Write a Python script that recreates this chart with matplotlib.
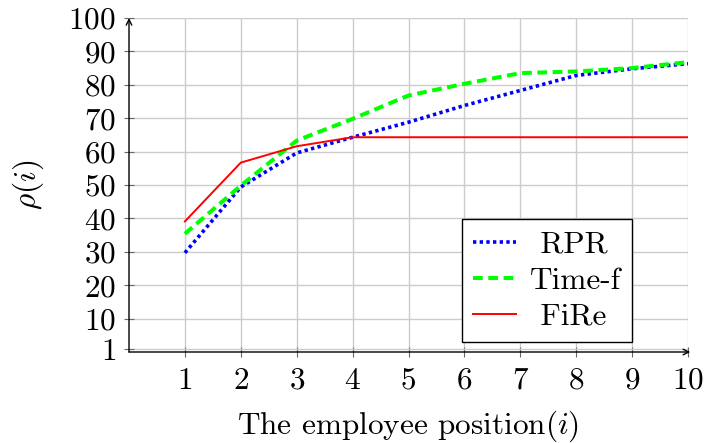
import matplotlib
matplotlib.use("Agg")
import matplotlib.pyplot as plt

positions = [1, 2, 3, 4, 5, 6, 7, 8, 9, 10]
rpr = [29.7, 49.4, 59.6, 64.3, 68.8, 73.8, 78.3, 82.8, 84.8, 86.3]
time_f = [35.4, 49.8, 63.3, 69.8, 76.8, 80.3, 83.5, 84.0, 85.0, 86.8]
fire = [39.1, 56.7, 61.6, 64.3, 64.3, 64.3, 64.3, 64.3, 64.3, 64.3]
yticks = [1, 10, 20, 30, 40, 50, 60, 70, 80, 90, 100]

plt.rcParams["font.family"] = "cmr10"
plt.rcParams["mathtext.fontset"] = "cm"
plt.rcParams["axes.formatter.use_mathtext"] = True
plt.rcParams["lines.scale_dashes"] = False
FS = 22.5

fig = plt.figure(figsize=(7.07, 4.43), dpi=100)
ax = fig.add_axes([129 / 707, 1 - 352 / 443, 559 / 707, 334 / 443])

ax.plot(positions, rpr, color="#0000ff", lw=2.6, dashes=(2.4, 2.4),
        label=" RPR")
ax.plot(positions, time_f, color="#00ff00", lw=2.9, dashes=(7, 4),
        label="Time-f")
ax.plot(positions, fire, color="#ff0000", lw=1.4, label=" FiRe")

ax.set_xlim(0, 10)
ax.set_ylim(0, 100)
ax.set_xticks(positions)
ax.set_yticks(yticks)
ax.grid(True, color="#cccccc", lw=1.0)
ax.set_axisbelow(True)
for s in ax.spines.values():
    s.set_visible(False)

# axis lines with arrow heads
ax.annotate("", xy=(0, 1.0), xytext=(0, 0), xycoords="axes fraction",
            arrowprops=dict(arrowstyle="->", lw=1.0, color="black",
                            shrinkA=0, shrinkB=0))
ax.annotate("", xy=(1.004, 0), xytext=(0, 0), xycoords="axes fraction",
            arrowprops=dict(arrowstyle="->", lw=1.0, color="black",
                            shrinkA=0, shrinkB=0))

ax.tick_params(axis="both", direction="inout", length=7, width=0.8,
               color="#666666", labelsize=FS)
ax.tick_params(axis="x", pad=7)
ax.tick_params(axis="y", pad=6)

ax.set_xlabel(r"The employee position$(i)$", fontsize=FS, labelpad=10)
ax.set_ylabel(r"$\rho(i)$", fontsize=FS, labelpad=16)

leg = ax.legend(loc="lower right", bbox_to_anchor=(9, 3),
                bbox_transform=ax.transData, borderaxespad=0,
                fontsize=FS, fancybox=False, edgecolor="black",
                framealpha=1, handlelength=1.35, handletextpad=0.45,
                labelspacing=0.26, borderpad=0.36)
leg.get_frame().set_linewidth(1.0)

fig.savefig("out.png", dpi=100)
